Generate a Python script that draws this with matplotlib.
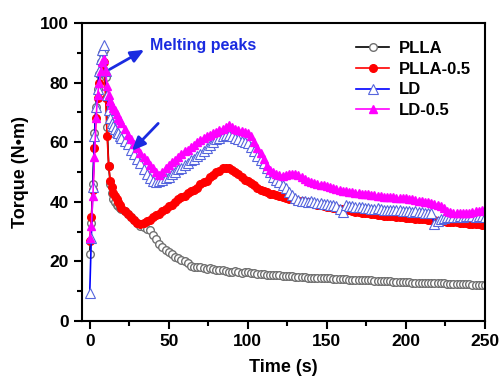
import matplotlib
matplotlib.use("Agg")
import matplotlib.pyplot as plt
from matplotlib.ticker import MultipleLocator

plt.rcParams['font.family'] = ['Liberation Sans', 'DejaVu Sans']
plt.rcParams['font.weight'] = 'bold'

time = list(range(0, 21)) + list(range(22, 251, 2))

plla = [22.5, 33, 46, 63, 72, 78, 83, 87, 90, 91, 82, 65, 52, 46, 43, 41, 40, 39, 38.5, 38, 37.5,
        37, 36, 35, 34, 33, 32, 31.5, 31, 30.5, 29, 27.5, 26, 25, 24, 23, 22.5, 21.5, 21, 20.5, 20,
        19.5, 18.5, 18, 18, 18, 17.8, 17.5, 17.8, 17.5, 17.2, 17, 17.2, 16.8, 16.6, 16.4, 16.8, 16.3,
        16.2, 16.5, 16.3, 16.2, 16.1, 15.9, 15.8, 15.7, 15.6, 15.5, 15.4, 15.4, 15.3, 15.2, 15.1,
        15.0, 15.0, 14.9, 14.8, 14.8, 14.7, 14.6, 14.6, 14.5, 14.5, 14.4, 14.4, 14.3, 14.3, 14.2,
        14.1, 14.1, 14.0, 14.0, 13.9, 13.9, 13.8, 13.8, 13.7, 13.7, 13.6, 13.6, 13.5, 13.5, 13.4,
        13.4, 13.3, 13.3, 13.2, 13.2, 13.1, 13.1, 13.0, 13.0, 12.9, 12.9, 12.9, 12.8, 12.8, 12.8,
        12.7, 12.7, 12.6, 12.6, 12.6, 12.5, 12.5, 12.4, 12.4, 12.4, 12.3, 12.3, 12.3, 12.2, 12.2,
        12.2, 12.1, 12.1]

plla05 = [27, 35, 44, 58, 68, 75, 80, 84, 86.5, 87, 75, 62, 52, 47, 45, 43, 42, 41, 40, 39, 38,
          37, 36, 35, 34, 33, 32.5, 33, 33.5, 34, 35, 35.5, 36, 37, 37.5, 38.5, 39, 40, 41, 41.5,
          42, 43, 43.5, 44, 44.5, 46, 46.5, 47, 48.5, 49, 50, 50.5, 51.2, 51.5, 51.2, 50.8, 50,
          49.2, 48.5, 47.5, 47, 46.2, 45.5, 44.8, 44, 43.8, 43.2, 42.8, 42.5, 42.3, 42, 41.6, 41.3,
          41, 40.8, 40.6, 40.4, 40.2, 40, 39.8, 39.6, 39.3, 39, 38.8, 38.6, 38.4, 38.2, 38, 37.8,
          37.6, 37.5, 37.3, 37.1, 36.9, 36.7, 36.6, 36.4, 36.2, 36.1, 35.9, 35.8, 35.6, 35.5, 35.4,
          35.3, 35.2, 35.1, 35.0, 34.9, 34.8, 34.7, 34.6, 34.5, 34.4, 34.3, 34.2, 34.1, 34.0, 33.9,
          33.8, 33.7, 33.6, 33.5, 33.4, 33.3, 33.2, 33.1, 33.0, 32.9, 32.8, 32.7, 32.6, 32.5, 32.4,
          32.3, 32.2]

ld = [9.5, 28, 45, 62, 72, 78, 84, 88, 91, 92.5, 84, 76, 71, 68, 66.5, 65.5, 64.5, 63.5, 63, 62,
      61.5, 60.5, 59.5, 57.5, 56, 54.5, 53, 51, 49.5, 48, 47, 46.5, 47, 47.5, 48, 48.5, 49.5, 50,
      51, 51.5, 52.5, 53, 54, 54.5, 55.5, 56, 57, 58, 59, 60, 61, 61.5, 62, 62.5, 62.5, 62.2,
      61.5, 61, 60.5, 60, 59.8, 58.5, 57, 55.5, 54, 53, 51.5, 50, 48.5, 47.5, 46.5, 45.5, 44.5,
      43.3, 42.2, 41.3, 40.7, 40.4, 40.2, 40, 40.2, 39.8, 39.6, 39.5, 39.3, 39.2, 39, 38.8, 38.5,
      37.5, 36.5, 38.8, 38.6, 38.5, 38.4, 38.3, 38.2, 38, 37.8, 37.5, 37.6, 37.8, 37.6, 37.4,
      37.3, 37.2, 37.4, 37.2, 37.1, 37, 36.9, 36.8, 36.7, 36.8, 36.6, 36.5, 36.4, 36.3, 36.2,
      32.5, 33.5, 34.2, 34.6, 34.8, 34.9, 35, 35, 35.1, 35, 35.1, 35.2, 35.1, 35, 35.1, 35.2, 35]

ld05 = [28, 32, 42, 55, 68, 76, 80, 84, 87, 88, 84, 79, 76, 74, 72.5, 71.5, 70.8, 69.5, 68.2,
        67.4, 66.5, 64.5, 62.5, 61, 59.5, 58, 56.5, 55, 54, 52.5, 51.5, 50, 49, 50, 51.5, 52.5,
        53.5, 54, 55, 56, 57, 57.5, 58.5, 59, 60, 60.7, 61.5, 62, 62.5, 63, 63.5, 64, 64.5, 65,
        65.8, 65, 64.5, 64, 63.8, 63.5, 63, 62, 60, 58, 56.5, 54.5, 52, 50.7, 50, 49.5, 49, 48.8,
        49, 49.2, 49.3, 49.2, 49, 48.5, 47.8, 47, 46.5, 46.2, 46, 45.8, 45.5, 45.2, 45, 44.6,
        44.2, 44, 43.8, 43.5, 43.3, 43.2, 43.1, 43, 42.8, 42.6, 42.5, 42.4, 42.2, 42, 41.8, 41.7,
        41.6, 41.5, 41.5, 41.4, 41.3, 41.3, 41.2, 41, 40.8, 40.6, 40.4, 40.2, 40, 39.8, 39.5,
        39.2, 39, 38.5, 37.8, 37, 36.6, 36.3, 36.2, 36.1, 36.2, 36.2, 36.4, 36.6, 36.8, 37, 37.2,
        37.2]

labels = ["PLLA", "PLLA-0.5", "LD", "LD-0.5"]

fig = plt.figure(figsize=(4.99, 3.79), dpi=100)
ax = fig.add_axes([0.164, 0.153, 0.808, 0.786])

ax.plot(time, plla, color='black', lw=1.2, marker='o', ms=5.5, mfc='white',
        mec='#707070', mew=1.0, label=labels[0])
ax.plot(time, plla05, color='red', lw=1.2, marker='o', ms=5.5, mfc='red',
        mec='red', label=labels[1])
ax.plot(time, ld, color='#0000ff', lw=1.2, marker='^', ms=6.5, mfc='white',
        mec='#5565dd', mew=0.8, label=labels[2])
ax.plot(time, ld05, color='#ff00ff', lw=1.2, marker='^', ms=5.5, mfc='#ff00ff',
        mec='#ff00ff', label=labels[3])

ax.set_xlim(-5, 250)
ax.set_ylim(0, 100)
ax.xaxis.set_major_locator(MultipleLocator(50))
ax.xaxis.set_minor_locator(MultipleLocator(25))
ax.yaxis.set_major_locator(MultipleLocator(20))
ax.yaxis.set_minor_locator(MultipleLocator(10))
ax.tick_params(which='major', direction='out', length=6, width=1.5, labelsize=12.5)
ax.tick_params(which='minor', direction='out', length=3.5, width=1.5)
ax.tick_params(top=False, right=False)
for s in ax.spines.values():
    s.set_linewidth(1.5)
for lab in ax.get_xticklabels() + ax.get_yticklabels():
    lab.set_fontweight('bold')

ax.set_xlabel("Time (s)", fontsize=13, fontweight='bold', labelpad=7)
ax.set_ylabel("Torque (N\u2022m)", fontsize=13, fontweight='bold', labelpad=8)

leg = ax.legend(loc='upper right', bbox_to_anchor=(0.995, 0.98), frameon=False,
                prop={'weight': 'bold', 'size': 12}, handlelength=2.0,
                handletextpad=0.6, labelspacing=0.35, borderaxespad=0.3)

ax.annotate("", xy=(36, 91.5), xytext=(11, 84),
            arrowprops=dict(arrowstyle='-|>,head_length=0.8,head_width=0.35',
                            color='#1a2be0', lw=2))
ax.text(38, 92.5, "Melting peaks", color='#1a2be0', fontsize=11.5, fontweight='bold',
        va='center', ha='left')
ax.annotate("", xy=(25.5, 56.5), xytext=(44.5, 67),
            arrowprops=dict(arrowstyle='-|>,head_length=0.8,head_width=0.35',
                            color='#1a2be0', lw=2))

fig.savefig("out.png", dpi=100)
